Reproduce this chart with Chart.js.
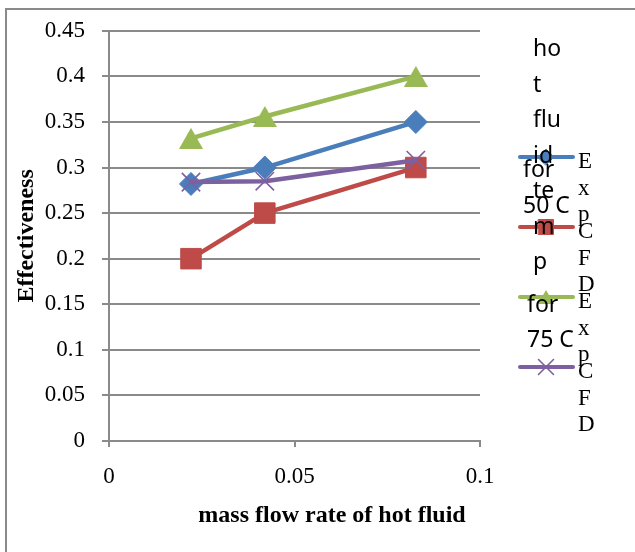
<!DOCTYPE html>
<html>
<head>
<meta charset="utf-8">
<title>Effectiveness vs mass flow rate of hot fluid</title>
<script src="https://cdn.jsdelivr.net/npm/chart.js@4/dist/chart.umd.min.js"></script>
<style>
  html, body { margin: 0; padding: 0; background: #ffffff; }
  #wrap { width: 635px; height: 552px; position: relative; }
  canvas { display: block; }
</style>
</head>
<body>
<div id="wrap"><canvas id="chart" width="635" height="552"></canvas></div>
<script>
// Mass flow rate of hot fluid (x values shared by all series)
const flowRate = [0.0221, 0.0420, 0.0827];

// Effectiveness, hot fluid at 50 C
const exp50 = [0.282, 0.300, 0.350];
const cfd50 = [0.200, 0.250, 0.300];

// Effectiveness, hot fluid at 75 C
const exp75 = [0.332, 0.356, 0.400];
const cfd75 = [0.284, 0.285, 0.308];

const seriesNames = ['Exp', 'CFD', 'Exp', 'CFD'];

// Legend captions, wrapped as they appear in the narrow legend column
const captionTemp = ['ho', 't', 'flu', 'id', 'te', 'm', 'p'];
const caption50 = ['for', '50 C'];
const caption75 = ['for', '75 C'];

const xTickValues = [0, 0.05, 0.1];
const yTickValues = [0, 0.05, 0.1, 0.15, 0.2, 0.25, 0.3, 0.35, 0.4, 0.45];

const xTitle = 'mass flow rate of hot fluid';
const yTitle = 'Effectiveness';

const COLORS = {
  blue: '#4A7EBB',
  red: '#BE4B48',
  green: '#98B954',
  purple: '#7D60A0',
  axis: '#8A8A8A'
};

// Triangle marker whose bounding box is centred on the point
function triangleMarker(size, color) {
  const c = document.createElement('canvas');
  const h = Math.round(size * 0.87);
  c.width = size; c.height = h;
  const g = c.getContext('2d');
  g.fillStyle = color;
  g.beginPath();
  g.moveTo(size / 2, 0);
  g.lineTo(size, h);
  g.lineTo(0, h);
  g.closePath();
  g.fill();
  return c;
}

const pairs = ys => flowRate.map((x, i) => ({ x: x, y: ys[i] }));

function series(label, values, color, style, radius, order, pbw) {
  return {
    label: label,
    data: pairs(values),
    showLine: true,
    borderColor: color,
    backgroundColor: color,
    borderWidth: 4.5,
    borderCapStyle: 'round',
    borderJoinStyle: 'round',
    pointStyle: style,
    pointRadius: radius,
    pointHoverRadius: radius,
    pointBackgroundColor: color,
    pointBorderColor: color,
    pointBorderWidth: pbw,
    order: order
  };
}

const datasets = [
  series(seriesNames[0], exp50, COLORS.blue, 'rectRot', 11.5, 4, 1),
  series(seriesNames[1], cfd50, COLORS.red, 'rect', 14.5, 3, 1),
  series(seriesNames[2], exp75, COLORS.green, triangleMarker(24, COLORS.green), 12, 2, 1),
  series(seriesNames[3], cfd75, COLORS.purple, 'crossRot', 13, 1, 1.6)
];

// Small legend markers
const legendMarkers = [
  { style: 'rectRot', radius: 8 },
  { style: 'rect', radius: 10.6 },
  { style: triangleMarker(16, COLORS.green), radius: 8 },
  { style: 'crossRot', radius: 10.6 }
];

const decorations = {
  id: 'decorations',
  beforeDraw(chart) {
    const ctx = chart.ctx;
    ctx.save();
    ctx.fillStyle = '#ffffff';
    ctx.fillRect(0, 0, chart.width, chart.height);
    ctx.restore();
  },
  afterDraw(chart) {
    const ctx = chart.ctx;
    const area = chart.chartArea;
    ctx.save();

    // outer frame of the chart
    ctx.strokeStyle = COLORS.axis;
    ctx.lineWidth = 2;
    ctx.beginPath();
    ctx.moveTo(6, chart.height + 2);
    ctx.lineTo(6, 9);
    ctx.lineTo(chart.width + 2, 9);
    ctx.stroke();

    // axis titles
    ctx.fillStyle = '#000000';
    ctx.font = 'bold 24px "Liberation Serif", "Times New Roman", serif';
    ctx.textAlign = 'center';
    ctx.textBaseline = 'alphabetic';
    ctx.fillText(xTitle, 332, 522);

    ctx.save();
    ctx.translate(33, (area.top + area.bottom) / 2);
    ctx.rotate(-Math.PI / 2);
    ctx.fillText(yTitle, 0, 0);
    ctx.restore();

    // legend: line samples, markers and vertical names
    const lx0 = 520, lx1 = 573, lmid = 546;
    const top = 157, step = 70;
    datasets.forEach((ds, i) => {
      const y = top + i * step;
      ctx.strokeStyle = ds.borderColor;
      ctx.lineWidth = 4;
      ctx.lineCap = 'round';
      ctx.beginPath();
      ctx.moveTo(lx0, y);
      ctx.lineTo(lx1, y);
      ctx.stroke();

      ctx.fillStyle = ds.borderColor;
      ctx.strokeStyle = ds.borderColor;
      ctx.lineWidth = ds.pointBorderWidth;
      Chart.helpers.drawPoint(ctx, {
        pointStyle: legendMarkers[i].style,
        radius: legendMarkers[i].radius,
        borderWidth: ds.pointBorderWidth,
        rotation: 0
      }, lmid, y);

      ctx.fillStyle = '#000000';
      ctx.font = '23px "Liberation Serif", "Times New Roman", serif';
      ctx.textAlign = 'left';
      ctx.textBaseline = 'alphabetic';
      const letters = ds.label.split('');
      letters.forEach((ch, k) => {
        ctx.fillText(ch, 578, y + 11 + k * 26.5);
      });
    });

    // captions drawn on top of the legend samples
    ctx.fillStyle = '#000000';
    ctx.font = '23px "Noto Sans", "Open Sans", sans-serif';
    ctx.textAlign = 'left';
    ctx.textBaseline = 'alphabetic';
    captionTemp.forEach((t, k) => ctx.fillText(t, 533, 56 + k * 35.5));
    caption50.forEach((t, k) => ctx.fillText(t, 523, 177 + k * 36));
    caption75.forEach((t, k) => ctx.fillText(t, 527, 312 + k * 35));

    ctx.restore();
  }
};

const tickFont = { family: '"Liberation Serif", "Times New Roman", serif', size: 23 };

new Chart(document.getElementById('chart').getContext('2d'), {
  type: 'scatter',
  data: { datasets: datasets },
  plugins: [decorations],
  options: {
    responsive: false,
    animation: false,
    devicePixelRatio: 1,
    layout: { padding: { left: 0, top: 29, right: 155, bottom: 0 } },
    plugins: {
      legend: { display: false },
      tooltip: { enabled: false },
      title: { display: false }
    },
    scales: {
      x: {
        type: 'linear',
        min: 0,
        max: 0.1,
        afterBuildTicks: s => { s.ticks = xTickValues.map(v => ({ value: v })); },
        afterFit: s => { s.height = 111; },
        ticks: {
          color: '#000000',
          font: tickFont,
          padding: 16,
          maxRotation: 0,
          autoSkip: false,
          callback: v => String(v)
        },
        grid: {
          drawOnChartArea: false,
          drawTicks: true,
          tickLength: 6,
          color: COLORS.axis,
          lineWidth: 2
        },
        border: { display: true, color: COLORS.axis, width: 2 }
      },
      y: {
        type: 'linear',
        min: 0,
        max: 0.45,
        afterBuildTicks: s => { s.ticks = yTickValues.map(v => ({ value: v })); },
        afterFit: s => { s.width = 109; },
        ticks: {
          color: '#000000',
          font: tickFont,
          padding: 17,
          autoSkip: false,
          callback: v => String(v)
        },
        grid: {
          drawOnChartArea: true,
          drawTicks: true,
          tickLength: 7,
          color: COLORS.axis,
          lineWidth: 2
        },
        border: { display: true, color: COLORS.axis, width: 2 }
      }
    }
  }
});
</script>
</body>
</html>
